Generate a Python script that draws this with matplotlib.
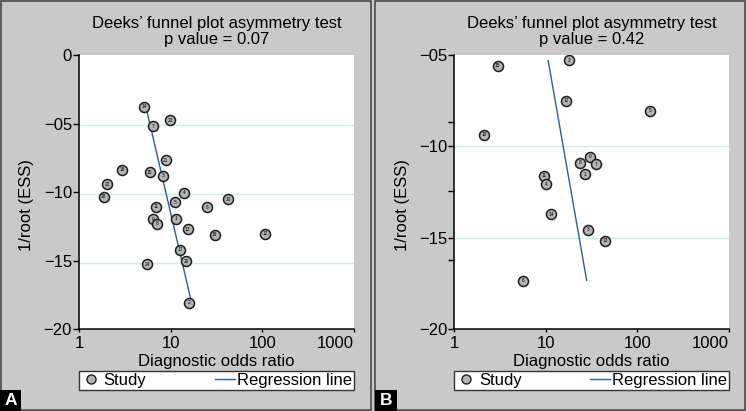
import matplotlib
matplotlib.use("Agg")
import matplotlib.pyplot as plt
from matplotlib.lines import Line2D
from matplotlib.patches import Rectangle

plt.rcParams["font.family"] = ["Liberation Sans", "DejaVu Sans"]

W, H = 746, 411
GREY_BG = "#c9c9c9"
GRID = "#c4f1e8"
REG = "#2b5e9e"
DOT_FILL = "#b3b3b3"
DOT_EDGE = "#1e1e1e"
FS = 12

# panel A: 24 studies
a_ids = [14, 23, 7, 21, 16, 15, 3, 22, 18, 4, 5, 10, 11, 6, 9, 8, 1, 13, 19, 12, 17, 20, 24, 2]
a_dor = [5.16, 9.84, 6.36, 8.82, 2.97, 5.90, 8.18, 2.04, 1.86, 13.9, 11.1, 42.6,
         6.86, 24.9, 6.42, 7.10, 11.4, 15.3, 30.2, 108, 12.6, 14.7, 5.56, 15.7]
a_ess = [-3.77, -4.76, -5.20, -7.68, -8.38, -8.55, -8.80, -9.43, -10.35, -10.06, -10.74, -10.52,
         -11.06, -11.11, -11.98, -12.32, -11.96, -12.71, -13.12, -13.03, -14.22, -15.04, -15.26, -18.08]
a_reg_dor = [5.34, 16.7]
a_reg_ess = [-3.72, -17.93]
a_p = "0.07"

# panel B: 15 studies
b_ids = [15, 2, 12, 5, 10, 9, 8, 7, 1, 11, 4, 14, 3, 13, 6]
b_dor = [2.97, 17.7, 16.7, 138, 2.11, 30.1, 23.6, 34.9, 26.7, 9.46, 10.0, 11.5, 28.8, 44.6, 5.62]
b_ess = [-5.58, -5.29, -7.50, -8.06, -9.36, -10.58, -10.90, -10.98, -11.54, -11.62, -12.07,
         -13.73, -14.57, -15.17, -17.37]
b_reg_dor = [10.6, 27.9]
b_reg_ess = [-5.31, -17.34]
b_p = "0.42"

x_ticks = [1, 10, 100, 1000]
x_labels = ["1", "10", "100", "1000"]


def px_rect(x0, y0, x1, y1):
    # pixel box (top-left origin) -> figure fraction rect
    return [x0 / W, 1 - y1 / H, (x1 - x0) / W, (y1 - y0) / H]


def draw_panel(fig, box, ax_px, ids, dor, ess, reg_x, reg_y, p, yticks, ylabels,
               ylim, grid_y, minor_y, letter, letter_box):
    fig.add_artist(Rectangle((box[0] / W, 1 - box[3] / H), (box[2] - box[0]) / W,
                             (box[3] - box[1]) / H, transform=fig.transFigure,
                             facecolor="none", edgecolor="#4a4a4a", lw=1.2))
    ax = fig.add_axes(px_rect(*ax_px))
    ax.set_facecolor("white")
    ax.set_xscale("log")
    ax.set_xlim(1, 1000)
    ax.set_ylim(*ylim)

    for g in grid_y:
        ax.axhline(g, color=GRID, lw=1, zorder=1)

    ax.plot(reg_x, reg_y, color=REG, lw=1, zorder=2)
    ax.scatter(dor, ess, s=52, facecolor=DOT_FILL, edgecolor=DOT_EDGE, lw=1.1, zorder=3)
    for i, x, y in zip(ids, dor, ess):
        ax.text(x, y, str(i), fontsize=3.4, ha="center", va="center", zorder=4)

    ax.set_xticks(x_ticks)
    ax.set_xticklabels(x_labels)
    ax.xaxis.set_minor_locator(matplotlib.ticker.NullLocator())
    ax.get_xticklabels()[-1].set_ha("right")
    ax.set_yticks(yticks)
    ax.set_yticklabels(ylabels)
    if minor_y:
        ax.set_yticks(minor_y, minor=True)
    ax.tick_params(axis="both", labelsize=FS, direction="out", width=1, color="black")
    ax.tick_params(axis="y", length=4, pad=1)
    ax.tick_params(axis="y", which="minor", length=4, width=1)
    ax.tick_params(axis="x", length=2, pad=3)
    for s in ["top", "right"]:
        ax.spines[s].set_visible(False)
    for s in ["left", "bottom"]:
        ax.spines[s].set_linewidth(1.1)

    ax.set_title("Deeks\u2019 funnel plot asymmetry test\np value = " + p,
                 fontsize=FS, pad=8, linespacing=1.1)
    ax.set_xlabel("Diagnostic odds ratio", fontsize=FS)
    ax.xaxis.set_label_coords(0.5, -0.117)
    ax.xaxis.label.set_va("center")
    ax.set_ylabel("1/root (ESS)", fontsize=FS)
    ax.yaxis.set_label_coords(-0.19, 0.453)
    ax.yaxis.label.set_va("center")

    handles = [
        Line2D([], [], marker="o", ls="", mfc=DOT_FILL, mec=DOT_EDGE, ms=6.5, mew=1, label="Study"),
        Line2D([], [], color=REG, lw=1, label="Regression line"),
    ]
    leg = ax.legend(handles=handles, ncol=2, mode="expand", loc="upper left",
                    bbox_to_anchor=(0, -0.237, 1, 0.084), borderaxespad=0,
                    fontsize=FS, fancybox=False, framealpha=1, edgecolor="#333333",
                    handlelength=1.2, handletextpad=0.15, borderpad=0.12, columnspacing=1)
    leg.get_frame().set_linewidth(1)

    lx0, ly0, lx1, ly1 = letter_box
    fig.add_artist(Rectangle((lx0 / W, 1 - ly1 / H), (lx1 - lx0) / W, (ly1 - ly0) / H,
                             transform=fig.transFigure, facecolor="black", edgecolor="none"))
    fig.text((lx0 + lx1) / 2 / W, 1 - (ly0 + ly1) / 2 / H, letter, color="white",
             fontsize=12.5, fontweight="bold", ha="center", va="center")
    return ax


fig = plt.figure(figsize=(W / 100, H / 100), dpi=100, facecolor=GREY_BG)

draw_panel(fig, (1, 1, 370.5, 410), (79, 55, 354, 329), a_ids, a_dor, a_ess,
           a_reg_dor, a_reg_ess, a_p,
           [0, -5, -10, -15, -20], ["0", "\u221205", "\u221210", "\u221215", "\u221220"],
           (-20, 0), [-5.1, -10.13, -15.16], None, "A", (0, 390, 21, 411))

draw_panel(fig, (375, 1, 745, 410), (454.3, 55, 729, 329), b_ids, b_dor, b_ess,
           b_reg_dor, b_reg_ess, b_p,
           [-5, -10, -15, -20], ["\u221205", "\u221210", "\u221215", "\u221220"],
           (-20, -5), [-10, -15], [-8.65, -12.45, -16.2], "B", (375, 390, 396.5, 411))

fig.savefig("out.png", dpi=100, facecolor=GREY_BG)
